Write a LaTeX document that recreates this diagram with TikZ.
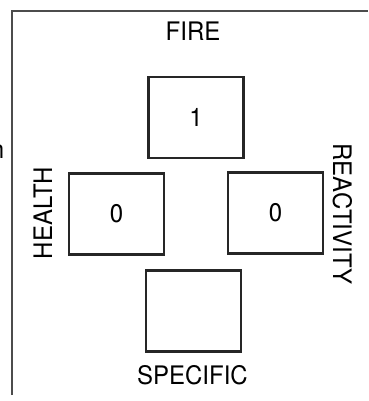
\documentclass[tikz,border=0pt]{standalone}
\usepackage{fontspec}
\setmainfont[FakeStretch=0.94]{TeX Gyre Heros}
\usepackage{xcolor}
\usepackage{tikz}

\begin{document}
\begin{tikzpicture}[
  x=1pt, y=-1pt,
  hazard/.style={
    rectangle,
    draw=black!85,
    line width=2.2pt,
    minimum width=95pt,
    minimum height=81pt,
    inner sep=0pt,
    font=\fontsize{25.5}{31}\selectfont
  },
  caption/.style={
    inner sep=0pt,
    font=\fontsize{25.5}{31}\selectfont
  },
  frame/.style={
    draw=black!70,
    line width=1.4pt
  }
]
\useasboundingbox (0,0) rectangle (368,401);

% Frame corner
\coordinate (fbot) at (12,395);
\coordinate (fcorner) at (12,11);
\coordinate (fright) at (368,11);
\draw[frame] (fbot) -- (fcorner) -- (fright);

% Cut off text at the left edge
\node[caption, anchor=base east] (cut) at (4.5,158) {n};

% The four squares
\node[hazard] (fire) at (196,117.5) {1};
\node[hazard] (health) at (116.5,214) {0};
\node[hazard] (react) at (275.5,213) {0};
\node[hazard] (spec) at (193.5,311) {};

% Labels
\node[caption, anchor=base] (firelbl) at (193,41) {FIRE};
\node[caption, anchor=base] (speclbl) at (192.5,384) {SPECIFIC};
\node[caption, anchor=base, rotate=90] (healthlbl) at (52,213) {HEALTH};
\node[caption, anchor=base, rotate=-90] (reactlbl) at (333,214) {REACTIVITY};

\end{tikzpicture}
\end{document}
